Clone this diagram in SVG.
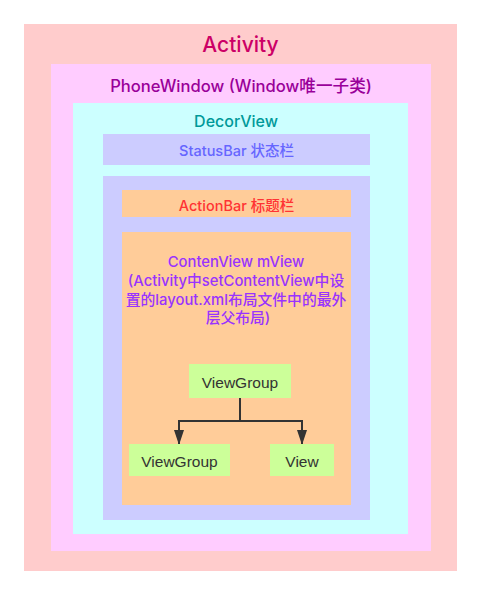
<svg xmlns="http://www.w3.org/2000/svg" width="481" height="595" viewBox="0 0 481 595">
<defs>
<style>
text{font-family:Inter,"Noto Sans CJK SC",sans-serif;text-anchor:middle;font-weight:500}
.c{fill:#333;font-size:15.5px;font-family:"Liberation Sans",Arial,sans-serif;font-weight:400}
.leaf{fill:#ccff99}
</style>
<marker id="ah" markerWidth="15" markerHeight="10" refX="15" refY="5" orient="auto" markerUnits="userSpaceOnUse" viewBox="0 0 15 10">
<path d="M0,0 L15,5 L0,10 Z" fill="#333"/>
</marker>
</defs>
<rect width="481" height="595" fill="#fff"/>
<g id="activity">
<rect x="24" y="24" width="433" height="547" fill="#ffcccc"/>
<text x="240.5" y="52" font-size="21" fill="#cc0066">Activity</text>
</g>
<g id="phonewindow">
<rect x="51" y="64" width="380" height="487" fill="#ffccff"/>
<text x="241" y="92" font-size="16.6" fill="#990099">PhoneWindow (Window唯一子类)</text>
</g>
<g id="decorview">
<rect x="73" y="103" width="335" height="431" fill="#ccffff"/>
<text x="236" y="127" font-size="16" fill="#009999">DecorView</text>
</g>
<g id="statusbar">
<rect x="103" y="134" width="267" height="31" fill="#ccccff"/>
<text x="236.5" y="156" font-size="14.5" fill="#6666ff">StatusBar 状态栏</text>
</g>
<g id="contentparent">
<rect x="103" y="176" width="267" height="344" fill="#ccccff"/>
</g>
<g id="actionbar">
<rect x="122" y="190" width="229" height="27" fill="#ffcc99"/>
<text x="236.5" y="211" font-size="14.5" fill="#ff3333">ActionBar 标题栏</text>
</g>
<g id="contentview">
<rect x="122" y="232" width="229" height="273" fill="#ffcc99"/>
<text font-size="14.8" fill="#9933ff">
<tspan x="238" y="267">ContenView mView</tspan>
<tspan x="238" y="286">(Activity中setContentView中设</tspan>
<tspan x="238" y="305">置的layout.xml布局文件中的最外</tspan>
<tspan x="238" y="323">层父布局)</tspan>
</text>
</g>
<g id="connectors" fill="none" stroke="#333" stroke-width="2">
<path d="M240,398 V421"/>
<path d="M240,421 H179 V445" marker-end="url(#ah)"/>
<path d="M240,421 H302 V445" marker-end="url(#ah)"/>
</g>
<g id="viewgroup-root">
<rect class="leaf" x="189" y="364" width="102" height="34"/>
<text class="c" x="240" y="388">ViewGroup</text>
</g>
<g id="viewgroup-child">
<rect class="leaf" x="129" y="444" width="101" height="32"/>
<text class="c" x="179.5" y="467">ViewGroup</text>
</g>
<g id="view-child">
<rect class="leaf" x="270" y="444" width="64" height="32"/>
<text class="c" x="302" y="467">View</text>
</g>
</svg>
